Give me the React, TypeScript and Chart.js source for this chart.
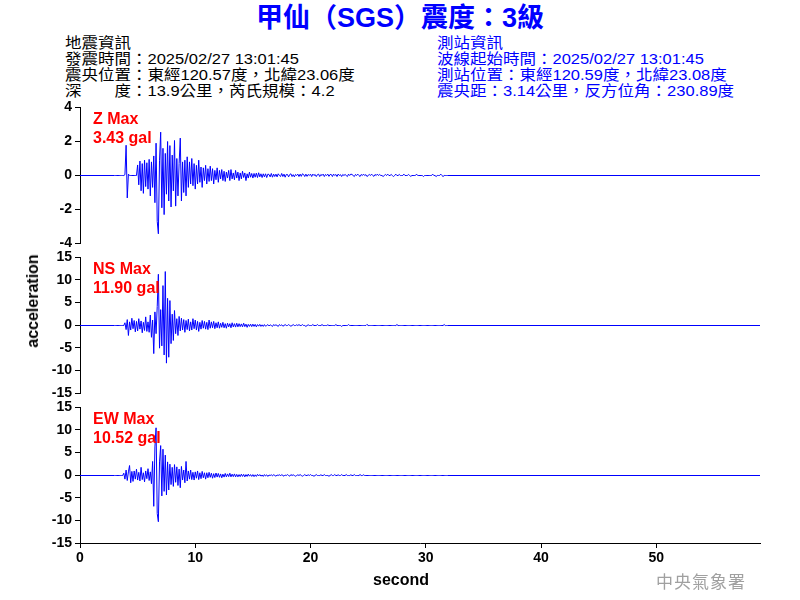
import React, { useEffect, useRef } from "react";
import { Chart, registerables } from "chart.js";

Chart.register(...registerables);

// ---- data ----
const RECORD_START = 0; // seconds
const RECORD_END = 59; // seconds
const SAMPLE_START = 3.0; // first listed sample (s)
const SAMPLE_STEP = 0.1; // seconds between listed samples

const X_TICK_STEP = 10;
const Z_RANGE = [-4, 4];
const Z_TICK_STEP = 2;
const H_RANGE = [-15, 15];
const H_TICK_STEP = 5;

// Z component acceleration (gal), 3.0 s .. 31.9 s
const Z_ACCEL = [
  0, 0, 0, 0, 0, 0, 0, 0, 0, 0.05,
  1.78, -1.32, 0.08, 0, 0, 0, 0, 0, 0, 0,
  0.62, -0.55, 0.85, -0.9, 0.7, -1.05, 0.9, -0.65, 0.75, -0.8,
  0.95, -1.2, 0.8, -0.7, 1.15, -1.6, 1.9, -2.7, -3.43, 0.9,
  2.55, -1.9, 1.6, -2.3, 1.3, -1.1, 2.0, -1.5, 1.76, -1.85,
  1.2, -0.9, 2.06, -1.8, 1.0, -1.2, 0.7, 2.2, -1.5, 0.8,
  -1.0, 0.9, -1.2, 1.1, -0.7, 0.8, -0.5, 1.0, -0.6, 0.7,
  -0.8, 0.6, -0.5, 0.9, -0.4, 0.5, -0.7, 0.45, -0.3, 0.6,
  -0.5, 0.4, -0.35, 0.55, -0.3, 0.4, -0.5, 0.3, -0.25, 0.45,
  -0.4, 0.3, -0.2, 0.35, -0.3, 0.25, -0.35, 0.2, -0.15, 0.3,
  -0.3, 0.35, -0.2, 0.15, -0.25, 0.3, -0.15, 0.2, -0.3, 0.15,
  -0.2, 0.25, -0.12, 0.15, -0.3, 0.1, -0.15, 0.2, -0.1, 0.12,
  -0.15, 0.12, -0.1, 0.14, -0.12, 0.16, -0.08, 0.1, -0.12, 0.1,
  -0.08, 0.1, -0.12, 0.08, 0.06, -0.08, 0.12, -0.1, 0.08, -0.06,
  0.08, -0.08, 0.1, 0, -0.06, 0.12, -0.06, 0.08, -0.1, 0.06,
  0.06, -0.08, 0.06, 0.1, -0.06, 0.05, -0.08, 0.06, 0, 0.08,
  -0.06, 0.08, -0.05, 0.1, 0.06, -0.06, 0.08, -0.05, 0.06, 0,
  0.08, -0.06, 0.08, 0, 0.06, -0.06, 0.05, 0.08, -0.06, 0.06,
  0, 0.08, -0.06, 0.06, 0, 0.08, -0.05, 0.06, 0.06, -0.06,
  0.08, 0, 0.06, -0.06, 0.08, 0, 0.05, -0.06, 0.06, 0,
  0.06, 0, -0.06, 0.08, 0, 0.08, 0.06, 0, -0.06, 0.06,
  0, 0.08, 0, -0.06, 0.06, 0, 0.08, 0, 0.05, -0.06,
  0, 0.06, 0, 0.08, 0, -0.05, 0.06, 0, 0.08, 0,
  0.06, 0, 0, -0.06, 0, 0.06, 0, 0.08, 0, 0,
  0.06, 0, -0.06, 0, 0.08, 0, 0, 0.06, 0, 0,
  0, 0.08, 0, 0, 0, 0.06, 0, -0.05, 0, 0,
  0, 0, 0.08, 0, 0, 0, 0, 0, -0.06, 0,
  0, 0, 0, 0, 0, 0, 0.08, 0, 0, -0.06,
  0, 0, 0, 0.08, 0, -0.06, 0, 0, 0, 0,
];

// NS component acceleration (gal), 3.0 s .. 31.9 s
const NS_ACCEL = [
  0, 0, 0, 0, 0, 0, 0, 0, 0, 0.6,
  -0.9, 1.3, -2.2, 0.8, -1.0, 1.6, -0.7, 1.1, -1.4, 0.9,
  -1.2, 1.5, -0.8, 1.0, -1.6, 0.7, -1.1, 1.9, -1.3, 0.8,
  -1.5, 2.3, -2.6, 1.2, -6.2, 3.0, -1.8, 4.2, 11.3, -5.0,
  3.5, -4.5, 8.8, -6.5, 11.9, -8.3, 6.0, -7.0, 5.5, -4.0,
  2.5, -3.3, 3.3, -1.8, 1.5, -2.2, 2.0, -1.2, 1.6, -1.0,
  1.3, -1.5, 1.1, -0.9, 1.4, -1.2, 0.8, -1.0, 1.5, -0.7,
  1.2, -1.0, 0.9, -1.3, 0.7, -0.8, 1.1, -0.6, 0.9, -0.8,
  0.7, -0.9, 1.2, -0.6, 0.8, -0.5, 0.9, -0.7, 0.6, -0.5,
  0.8, -0.6, 0.5, -0.4, 0.7, -0.5, 0.4, -0.6, 0.5, -0.3,
  0.4, -0.5, 0.6, -0.3, 0.4, -0.35, 0.5, -0.3, 0.4, -0.25,
  0.35, -0.3, 0.5, -0.25, 0.3, -0.4, 0.25, -0.2, 0.3, -0.25,
  0.3, -0.2, 0.25, -0.3, 0.2, -0.15, 0.25, -0.2, 0.15, -0.2,
  0.2, -0.15, 0, 0.2, -0.1, 0.15, 0, -0.2, 0.2, 0,
  0.15, 0, -0.2, 0.2, 0, 0.15, -0.15, 0, 0.2, 0,
  0, 0.2, 0, -0.15, 0, 0.2, 0, 0, 0.15, 0,
  0.2, 0, 0, 0.2, 0, 0, -0.2, 0, 0.15, 0,
  0, 0, 0.2, 0, 0, 0, 0.2, 0, 0, 0,
  0.2, 0, 0, 0, 0, 0.15, 0, 0, 0, 0,
  0, 0, 0.2, 0, 0, 0, 0, -0.2, 0, 0,
  0, 0, 0, 0.2, 0, 0, 0, 0, 0, 0,
  0, 0, 0, 0, 0, 0, 0, 0, 0, 0.25,
  0, 0, 0, 0, 0, 0, 0, 0, 0, 0,
  0, 0, 0, 0, 0, 0, 0, 0, 0, 0,
  0, 0, 0, 0, 0, 0.2, 0, 0, 0, 0,
  0, 0, 0, 0, 0, 0, 0, 0, 0, 0,
  0, 0, 0, 0, 0, 0, 0, 0, 0, 0,
  0, 0, 0, 0, 0, 0, 0, 0, 0, 0,
  0, 0, 0, 0, 0, 0, 0.2, 0, 0, 0,
];

// EW component acceleration (gal), 3.0 s .. 31.9 s
const EW_ACCEL = [
  0, 0, 0, 0, 0, 0, 0, 0, 0.5, -0.8,
  1.2, -1.1, 0.8, 2.2, -1.6, 0.9, -1.3, 1.0, -0.8, 1.4,
  -1.0, 0.7, -1.2, 1.8, -0.9, 0.6, -1.4, 1.0, -0.7, 1.5,
  -1.1, 0.8, -1.8, 3.1, -6.8, 6.3, 10.52, -8.4, -10.2, 3.0,
  6.6, -4.5, 5.8, -3.5, 4.5, -4.3, 3.0, -3.2, 2.5, -2.0,
  1.8, -2.4, 2.4, -1.5, 1.9, -2.2, 1.4, -2.7, 2.0, -1.0,
  1.2, -1.6, 3.1, -1.2, 1.0, -0.8, 1.2, -0.9, 0.7, -1.0,
  0.8, -0.6, 1.0, -0.9, 0.6, -0.7, 0.9, -0.5, 0.6, -0.8,
  0.6, -0.5, 0.7, -0.4, 0.5, -0.6, 0.4, -0.45, 0.55, -0.35,
  0.45, -0.4, 0.35, -0.5, 0.3, -0.35, 0.45, -0.3, 0.35, -0.25,
  0.5, -0.3, 0.3, -0.25, 0.35, -0.3, 0.25, -0.3, 0.2, -0.25,
  0.3, -0.2, 0.25, -0.3, 0.2, -0.2, 0.3, -0.15, 0.2, -0.2,
  0.2, -0.25, 0.15, -0.2, 0.25, -0.1, 0.2, -0.15, 0.1, -0.2,
  0.2, -0.1, 0.15, -0.2, 0.1, 0, 0.15, -0.1, 0.2, 0,
  -0.15, 0.1, 0, 0.2, -0.1, 0.2, 0, -0.15, 0.1, 0,
  0.2, 0, -0.15, 0.2, 0, 0.15, 0, -0.15, 0, 0.15,
  0, 0.2, 0, -0.15, 0, 0.2, 0, 0, 0.15, 0,
  0.2, 0, 0, -0.15, 0, 0.2, 0, 0, 0, 0.15,
  0, 0, 0.2, 0, 0, 0, -0.15, 0, 0.2, 0,
  0, 0.2, 0, 0, 0.15, 0, 0, 0.2, 0, 0,
  0, 0.2, 0, 0, 0, 0.15, 0, 0, 0.2, 0,
  0, 0, 0, 0.2, 0, 0, 0.15, 0, 0, 0,
  0, 0, 0, 0, 0, 0, 0, 0, 0, 0,
  0, 0, 0, 0, 0, 0, 0, 0, 0, 0,
  0, 0, 0, 0, 0, 0, 0, 0, 0, 0,
  0, 0, 0, 0, 0, 0, 0, 0, 0, 0,
  0, 0, 0, 0, 0, 0, 0, 0, 0, 0,
  0, 0, 0, 0, 0, 0, 0, 0, 0, 0,
  0, 0, 0, 0, 0, 0, 0, 0, 0, 0,
];

const TITLE = "甲仙（SGS）震度：3級";
const QUAKE_INFO = [
  "地震資訊",
  "發震時間：2025/02/27 13:01:45",
  "震央位置：東經120.57度，北緯23.06度",
  "深　　度：13.9公里，芮氏規模：4.2",
];
const STATION_INFO = [
  "測站資訊",
  "波線起始時間：2025/02/27 13:01:45",
  "測站位置：東經120.59度，北緯23.08度",
  "震央距：3.14公里，反方位角：230.89度",
];
const COMPONENT_LABELS = ["Z Max", "NS Max", "EW Max"];
const PEAK_LABELS = ["3.43 gal", "11.90 gal", "10.52 gal"];
const Y_TITLE = "acceleration";
const X_TITLE = "second";
const AGENCY = "中央氣象署";

// ---- styling ----
const LATIN = '"Liberation Sans", Arial, "Noto Sans CJK TC", sans-serif';
const TICK_FONT = { family: '"Liberation Sans", Arial, sans-serif', size: 14, weight: "bold" as const };

function buildPoints(values: number[]) {
  const pts: { x: number; y: number }[] = [{ x: RECORD_START, y: 0 }];
  values.forEach((v, i) => {
    pts.push({ x: Math.round((SAMPLE_START + i * SAMPLE_STEP) * 100) / 100, y: v });
  });
  pts.push({ x: RECORD_END, y: 0 });
  return pts;
}

// shift the trace by half a pixel so the 1px zero line is crisp
const crispPlugin = {
  id: "crispTrace",
  beforeDatasetsDraw(chart: any) {
    chart.ctx.save();
    chart.ctx.translate(0, 0.5);
  },
  afterDatasetsDraw(chart: any) {
    chart.ctx.restore();
  },
};

type TraceProps = {
  values: number[];
  range: number[];
  step: number;
  areaTop: number;
  areaHeight: number;
  showX: boolean;
};

function Trace({ values, range, step, areaTop, areaHeight, showX }: TraceProps) {
  const ref = useRef<HTMLCanvasElement>(null);
  const padTop = 12;
  const padBottom = showX ? 32 : 12;
  const h = areaHeight + padTop + padBottom;

  useEffect(() => {
    const chart = new Chart(ref.current as HTMLCanvasElement, {
      type: "line",
      data: {
        datasets: [
          {
            data: buildPoints(values),
            borderColor: "#0000ff",
            borderWidth: 1,
            pointRadius: 0,
            tension: 0,
            fill: false,
          },
        ],
      },
      options: {
        animation: false,
        responsive: false,
        devicePixelRatio: 1,
        events: [],
        layout: { padding: { left: 0, right: 40, top: padTop, bottom: 0 } },
        plugins: { legend: { display: false }, tooltip: { enabled: false } },
        scales: {
          x: {
            type: "linear",
            display: true,
            min: RECORD_START,
            max: RECORD_END,
            ticks: {
              display: showX,
              stepSize: X_TICK_STEP,
              includeBounds: false,
              font: TICK_FONT,
              color: "#000",
              padding: 2,
              maxRotation: 0,
              autoSkip: false,
            },
            grid: { display: showX, drawOnChartArea: false, drawTicks: true, tickLength: 5, color: "#000" },
            border: { display: showX, color: "#000", width: 1 },
            afterFit: (s: any) => {
              s.height = padBottom;
            },
          },
          y: {
            type: "linear",
            min: range[0],
            max: range[1],
            ticks: {
              stepSize: step,
              includeBounds: false,
              font: TICK_FONT,
              color: "#000",
              padding: 3,
              autoSkip: false,
            },
            grid: { drawOnChartArea: false, drawTicks: true, tickLength: 5, color: "#000" },
            border: { display: true, color: "#000", width: 1 },
            afterFit: (s: any) => {
              s.width = 80;
            },
          },
        },
      },
      plugins: [crispPlugin],
    } as any);
    return () => chart.destroy();
  }, []);

  return (
    <canvas
      ref={ref}
      width={800}
      height={h}
      style={{ position: "absolute", left: 0, top: areaTop - padTop, width: 800, height: h }}
    />
  );
}

const PANEL_TOPS = [107, 257, 407];
const PANEL_HEIGHT = 136;

export default function App() {
  const infoLine = (text: string, i: number, left: number, color: string) => (
    <div
      key={left + "-" + i}
      style={{
        position: "absolute",
        left,
        top: 35 + i * 16,
        fontFamily: LATIN,
        fontSize: 15,
        lineHeight: "16px",
        color,
        whiteSpace: "nowrap",
        transform: "scaleX(1.1)",
        transformOrigin: "left center",
      }}
    >
      {text}
    </div>
  );

  return (
    <div
      style={{
        position: "absolute",
        left: 0,
        top: 0,
        width: 800,
        height: 600,
        background: "#fff",
        overflow: "hidden",
      }}
    >
      <div
        style={{
          position: "absolute",
          left: 0,
          width: 800,
          top: 4,
          textAlign: "center",
          fontFamily: LATIN,
          fontWeight: "bold",
          fontSize: 27,
          lineHeight: "28px",
          color: "#0000ff",
          whiteSpace: "nowrap",
        }}
      >
        {TITLE}
      </div>
      {QUAKE_INFO.map((t, i) => infoLine(t, i, 65, "#000"))}
      {STATION_INFO.map((t, i) => infoLine(t, i, 437, "#0000ff"))}

      <Trace values={Z_ACCEL} range={Z_RANGE} step={Z_TICK_STEP} areaTop={PANEL_TOPS[0]} areaHeight={PANEL_HEIGHT} showX={false} />
      <Trace values={NS_ACCEL} range={H_RANGE} step={H_TICK_STEP} areaTop={PANEL_TOPS[1]} areaHeight={PANEL_HEIGHT} showX={false} />
      <Trace values={EW_ACCEL} range={H_RANGE} step={H_TICK_STEP} areaTop={PANEL_TOPS[2]} areaHeight={PANEL_HEIGHT} showX={true} />

      {COMPONENT_LABELS.map((c, i) => (
        <div
          key={c}
          style={{
            position: "absolute",
            left: 93,
            top: PANEL_TOPS[i] + 2,
            fontFamily: LATIN,
            fontWeight: "bold",
            fontSize: 16,
            lineHeight: "19px",
            color: "#ff0000",
            whiteSpace: "nowrap",
          }}
        >
          <div>{c}</div>
          <div>{PEAK_LABELS[i]}</div>
        </div>
      ))}

      <div
        style={{
          position: "absolute",
          left: 33,
          top: 301,
          transform: "translate(-50%, -50%) rotate(-90deg)",
          fontFamily: LATIN,
          fontWeight: "bold",
          fontSize: 16,
          lineHeight: "16px",
          color: "#000",
          whiteSpace: "nowrap",
        }}
      >
        {Y_TITLE}
      </div>
      <div
        style={{
          position: "absolute",
          left: 401,
          top: 580,
          transform: "translate(-50%, -50%)",
          fontFamily: LATIN,
          fontWeight: "bold",
          fontSize: 16,
          lineHeight: "16px",
          color: "#000",
          whiteSpace: "nowrap",
        }}
      >
        {X_TITLE}
      </div>
      <div
        style={{
          position: "absolute",
          left: 656,
          top: 572,
          fontFamily: '"Noto Sans CJK TC", sans-serif',
          fontSize: 17,
          lineHeight: "18px",
          letterSpacing: 1,
          color: "#a0a0a0",
          whiteSpace: "nowrap",
        }}
      >
        {AGENCY}
      </div>
    </div>
  );
}
